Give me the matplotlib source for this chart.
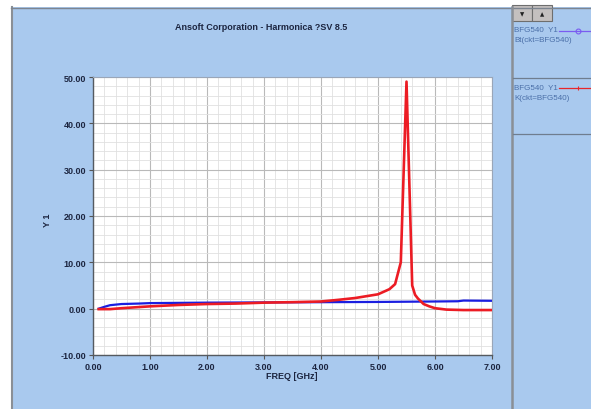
import matplotlib
matplotlib.use("Agg")
import matplotlib.pyplot as plt
from matplotlib.patches import Rectangle
from matplotlib.lines import Line2D
from matplotlib.ticker import MultipleLocator, FormatStrFormatter
from matplotlib import font_manager

# ---- data ----
freq_bt = [0.1, 0.2, 0.3, 0.5, 0.8, 1.0, 2.0, 3.0, 4.0, 5.0, 5.5, 6.0, 6.4, 6.5, 7.0]
bt_vals = [0.0, 0.4, 0.75, 1.0, 1.1, 1.2, 1.3, 1.35, 1.4, 1.45, 1.5, 1.55, 1.6, 1.75, 1.7]

freq_k = [0.1, 0.3, 0.5, 1.0, 1.5, 2.0, 2.5, 3.0, 3.5, 4.0, 4.3, 4.6, 5.0, 5.2, 5.3,
          5.4, 5.5, 5.6, 5.65, 5.7, 5.8, 5.9, 6.0, 6.2, 6.5, 7.0]
k_vals = [-0.1, -0.1, 0.1, 0.5, 0.8, 1.0, 1.1, 1.3, 1.4, 1.55, 1.9, 2.3, 3.1, 4.2, 5.3,
          10.0, 49.0, 5.0, 3.0, 2.2, 1.0, 0.5, 0.1, -0.2, -0.3, -0.3]

x_ticks = [0, 1, 2, 3, 4, 5, 6, 7]
y_ticks = [-10, 0, 10, 20, 30, 40, 50]

title = "Ansoft Corporation - Harmonica ?SV 8.5"
xlabel = "FREQ [GHz]"
ylabel = "Y 1"
legend_entries = [("BFG540  Y1", "Bt(ckt=BFG540)", "#7a5cf0", "o"),
                  ("BFG540  Y1", "K(ckt=BFG540)", "#e8262a", "|")]

W, H = 591, 410
BG = "#a9c9ee"
TXT = "#1c2540"

available = {f.name for f in font_manager.fontManager.ttflist}
NARROW = "Liberation Sans Narrow" if "Liberation Sans Narrow" in available else "Liberation Sans"

fig = plt.figure(figsize=(W / 100, H / 100), dpi=100)
fig.patch.set_facecolor("white")


def fx(x):
    return x / W


def fy(y):
    return 1 - y / H


# background panels
fig.add_artist(Rectangle((fx(11), 0), fx(W - 11), fy(8), transform=fig.transFigure,
                         facecolor=BG, edgecolor="none", zorder=0))
# borders
fig.add_artist(Line2D([fx(11.5), fx(11.5)], [0, fy(8)], transform=fig.transFigure,
                      color="#8a8f96", lw=1.5))
fig.add_artist(Line2D([fx(11), 1], [fy(8.5), fy(8.5)], transform=fig.transFigure,
                      color="#7d8590", lw=1.0))
fig.add_artist(Line2D([fx(511.5), fx(511.5)], [0, fy(8)], transform=fig.transFigure,
                      color="#8a8f96", lw=1.8))

# main axes
ax = fig.add_axes([fx(93), fy(356), fx(492 - 93), (356 - 78) / H])
ax.set_facecolor("white")
ax.set_xlim(0, 7)
ax.set_ylim(-10, 50)
ax.xaxis.set_minor_locator(MultipleLocator(0.2))
ax.yaxis.set_minor_locator(MultipleLocator(2))
ax.set_xticks(x_ticks)
ax.set_yticks(y_ticks)
ax.xaxis.set_major_formatter(FormatStrFormatter("%.2f"))
ax.yaxis.set_major_formatter(FormatStrFormatter("%.2f"))
ax.grid(which="major", color="#b9b9b9", lw=0.8)
ax.grid(which="minor", color="#e0e0e0", lw=0.6)
ax.set_axisbelow(True)
ax.tick_params(which="major", length=3, width=0.8, colors="#555555", labelcolor=TXT,
               labelsize=6.5, pad=2)
ax.tick_params(which="minor", length=0)
for lab in ax.get_xticklabels() + ax.get_yticklabels():
    lab.set_fontfamily("Liberation Sans")
    lab.set_fontweight("bold")
for s in ["left", "bottom"]:
    ax.spines[s].set_color("#555a60")
    ax.spines[s].set_linewidth(1.0)
for s in ["top", "right"]:
    ax.spines[s].set_color("#9aa6b8")
    ax.spines[s].set_linewidth(0.8)

ax.plot(freq_bt, bt_vals, color="#1a1ee0", lw=1.6, zorder=3)
ax.plot(freq_k, k_vals, color="#ec1c24", lw=1.9, zorder=4)

fig.text(fx(261), fy(27), title, ha="center", va="center", fontsize=6.5,
         fontweight="bold", color=TXT, family="Liberation Sans")
fig.text(fx(292), fy(377), xlabel, ha="center", va="center", fontsize=6.5,
         fontweight="bold", color=TXT, family="Liberation Sans")
fig.text(fx(47), fy(220), ylabel, ha="center", va="center", fontsize=6.5,
         fontweight="bold", color=TXT, family="Liberation Sans", rotation=90)

# right panel buttons
for (x0, sym) in [(512, "\u25BC"), (532, "\u25B2")]:
    fig.add_artist(Rectangle((fx(x0), fy(22)), fx(20), 16 / H, transform=fig.transFigure,
                             facecolor="#c4c0bf", edgecolor="#6e6e6e", lw=0.8))
    fig.text(fx(x0 + 10), fy(14.5), sym, ha="center", va="center", fontsize=4,
             color="#222222", family="DejaVu Sans")

# legend entries
LEG_TXT = "#4a6fa8"
for i, (l1, l2, col, mk) in enumerate(legend_entries):
    y0 = 31 + i * 57
    fig.text(fx(514), fy(y0), l1, ha="left", va="center", fontsize=5.8, color=LEG_TXT,
             family=NARROW)
    fig.text(fx(514), fy(y0 + 10), l2, ha="left", va="center", fontsize=5.8,
             color=LEG_TXT, family=NARROW)
    fig.add_artist(Line2D([fx(559), 1], [fy(y0 + 0.5), fy(y0 + 0.5)], transform=fig.transFigure,
                          color=col, lw=0.9))
    fig.add_artist(Line2D([fx(578)], [fy(y0 + 0.5)], transform=fig.transFigure,
                          color=col, marker=mk, markersize=3.5, markerfacecolor="none",
                          markeredgewidth=0.8, lw=0))
    fig.add_artist(Line2D([fx(513), 1], [fy(79 + i * 56), fy(79 + i * 56)],
                          transform=fig.transFigure, color="#6f7d8f", lw=0.9))

fig.savefig("out.png", dpi=100, facecolor=fig.get_facecolor())
